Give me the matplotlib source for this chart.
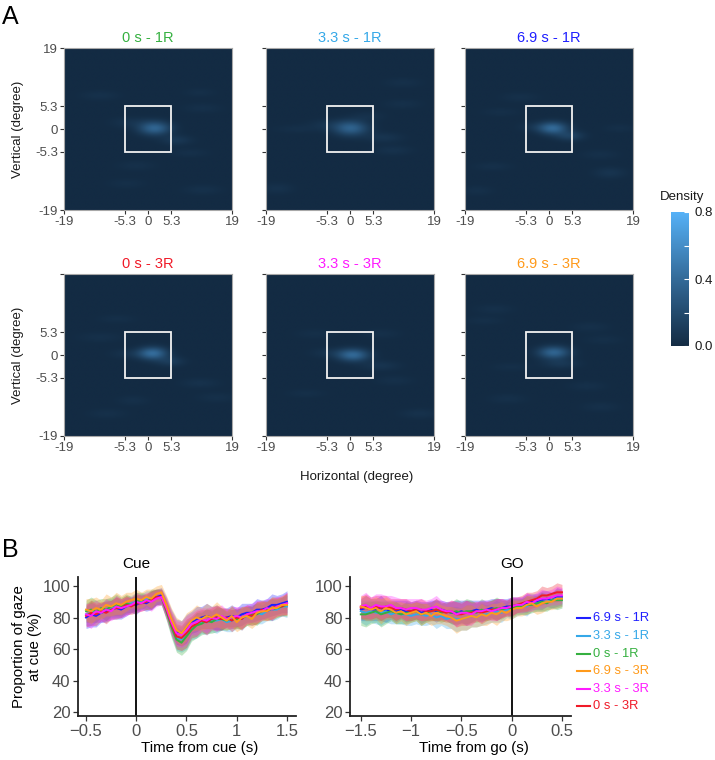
import numpy as np
import matplotlib
matplotlib.use("Agg")
import matplotlib.pyplot as plt
from matplotlib.colors import LinearSegmentedColormap
from matplotlib.patches import Rectangle
from matplotlib.lines import Line2D

plt.rcParams['font.family'] = ['Liberation Sans', 'DejaVu Sans']

W, H = 715, 760

# ---------------- data ----------------
conditions = ["6.9 s - 1R", "3.3 s - 1R", "0 s - 1R", "6.9 s - 3R", "3.3 s - 3R", "0 s - 3R"]
cond_colors = {"6.9 s - 1R": "#1F1FFF", "3.3 s - 1R": "#35A8E8", "0 s - 1R": "#35B040",
               "6.9 s - 3R": "#FF9A1A", "3.3 s - 3R": "#FF1AFF", "0 s - 3R": "#F01A28"}

heat_titles = ["0 s - 1R", "3.3 s - 1R", "6.9 s - 1R", "0 s - 3R", "3.3 s - 3R", "6.9 s - 3R"]
heat_ticks = [-19, -5.3, 0, 5.3, 19]
heat_ticklabels = ["-19", "-5.3", "0", "5.3", "19"]
cbar_ticks = [0.0, 0.2, 0.4, 0.6, 0.8]
cbar_ticklabels = ["0.0", "", "0.4", "", "0.8"]

# density blobs: (x, y, amplitude, spread_x, spread_y)
blobs_0s_1R = [(1.5, 0.2, 0.36, 2.4, 1.1), (6.4, -2.6, 0.08, 2.4, 0.8), (-10.9, 7.9, 0.04, 3.0, 0.8),
               (12.4, 4.9, 0.035, 3.0, 0.8), (11.7, 8.6, 0.03, 2.5, 0.7), (-2.6, -8.6, 0.035, 3.0, 0.8),
               (12.4, -14.3, 0.04, 3.0, 0.8), (-4.9, -12.8, 0.03, 3.0, 0.8), (9.4, -5.6, 0.035, 3.0, 0.7),
               (-4.0, 1.5, 0.05, 3.0, 0.9)]
blobs_33s_1R = [(0.2, 0.2, 0.34, 2.6, 1.2), (7.5, -2.0, 0.06, 3.0, 0.8), (9.7, -5.0, 0.045, 3.0, 0.8),
                (12.0, 10.9, 0.035, 3.0, 0.8), (12.0, 5.9, 0.035, 3.0, 0.8), (-16.5, -14.0, 0.045, 2.5, 0.9),
                (-12.0, 0.0, 0.03, 3.5, 0.7), (-5.0, 1.0, 0.05, 3.0, 0.9), (4.0, 3.0, 0.04, 2.5, 0.8)]
blobs_69s_1R = [(0.9, 0.2, 0.38, 2.2, 1.0), (4.7, -1.6, 0.14, 2.2, 0.8), (13.8, -10.3, 0.06, 2.5, 0.9),
                (11.5, -6.0, 0.035, 3.0, 0.8), (-6.6, 7.5, 0.035, 3.0, 0.8), (-11.0, 4.0, 0.03, 3.0, 0.7),
                (-12.7, -8.8, 0.035, 3.0, 0.7), (-16.3, -14.5, 0.035, 2.5, 0.8), (16.0, 0.2, 0.03, 2.5, 0.7),
                (-3.0, 0.5, 0.05, 2.5, 0.8)]
blobs_0s_3R = [(1.1, 0.4, 0.40, 2.2, 1.0), (5.0, -1.5, 0.10, 2.2, 0.8), (11.8, -6.6, 0.045, 3.0, 0.8),
               (15.6, -10.0, 0.035, 3.0, 0.8), (-10.9, 4.2, 0.035, 3.5, 0.8), (-7.0, 8.5, 0.03, 3.0, 0.7),
               (-9.3, -13.8, 0.035, 3.0, 0.8), (-3.4, -10.7, 0.035, 2.5, 0.8), (-4.0, 0.3, 0.05, 3.0, 0.8)]
blobs_33s_3R = [(0.7, 0.0, 0.38, 2.4, 1.0), (6.8, -2.5, 0.06, 3.0, 0.8), (15.8, -13.8, 0.045, 3.0, 0.8),
                (7.0, 5.0, 0.035, 3.0, 0.8), (-8.0, 5.0, 0.03, 3.0, 0.8), (-4.5, 0.5, 0.05, 3.0, 0.8),
                (-10.0, -9.0, 0.03, 3.0, 0.7), (10.0, -6.0, 0.035, 3.0, 0.8)]
blobs_69s_3R = [(1.1, 0.6, 0.36, 2.4, 1.0), (2.6, -2.0, 0.08, 2.8, 0.8), (-12.4, 10.8, 0.035, 3.0, 0.8),
                (-14.7, 8.1, 0.03, 3.0, 0.7), (9.4, 6.6, 0.035, 3.0, 0.8), (12.4, 3.6, 0.03, 3.0, 0.8),
                (-9.4, -10.3, 0.035, 3.0, 0.8), (11.7, -12.2, 0.035, 3.0, 0.8), (-8.6, -2.8, 0.03, 3.0, 0.7),
                (8.6, -7.3, 0.035, 3.0, 0.8)]
heat_blobs = [blobs_0s_1R, blobs_33s_1R, blobs_69s_1R, blobs_0s_3R, blobs_33s_3R, blobs_69s_3R]

# gaze proportion time courses (%), sampled every 0.05 s
t_cue = np.round(np.linspace(-0.5, 1.5, 41), 2)
t_go = np.round(np.linspace(-1.5, 0.5, 41), 2)

cue_69_1R = [80,82,81,83,84,85,86,85,87,88,88,90,89,91,93,94,87,78,71,70,73,77,79,80,81,80,80,79,80,81,80,82,83,83,85,85,86,88,88,89,90]
cue_33_1R = [82,83,84,83,85,86,87,86,88,89,90,90,92,91,93,93,85,75,67,66,69,73,75,77,77,78,78,79,77,78,79,79,81,81,83,82,84,85,85,87,87]
cue_0_1R = [84,85,84,86,85,87,88,87,89,88,90,91,90,92,93,93,84,74,66,64,68,72,75,76,78,77,79,79,78,80,79,80,81,82,82,84,85,85,86,87,88]
cue_69_3R = [85,84,86,85,88,87,89,88,90,91,92,91,93,92,95,96,88,79,72,70,74,78,80,79,81,80,82,80,78,81,77,80,81,79,83,84,84,86,86,88,88]
cue_33_3R = [82,81,84,83,85,84,87,86,87,88,90,89,91,90,92,93,86,77,70,69,72,76,77,79,78,80,79,81,79,80,81,80,82,83,84,84,86,85,87,88,89]
cue_0_3R = [81,83,82,84,83,85,86,86,88,87,89,89,90,91,93,93,85,76,68,67,70,74,76,78,77,79,80,79,80,78,80,79,82,81,83,85,84,86,87,87,89]
sem_cue = [7,8,7,6,7,6,7,6,6,5,6,5,5,6,5,5,6,7,8,8,9,7,8,7,8,7,8,7,6,7,6,7,6,6,7,6,6,7,6,6,7]

go_69_1R = [85,86,85,85,86,84,85,84,85,84,84,85,83,84,85,84,85,84,83,83,84,83,84,85,84,85,86,85,86,87,87,88,88,89,90,90,91,92,91,93,93]
go_33_1R = [84,83,84,83,83,84,82,83,82,82,81,82,82,81,82,80,81,79,80,79,79,80,81,80,82,82,83,84,83,85,85,86,87,87,89,89,90,90,91,92,92]
go_0_1R = [82,82,83,84,82,83,84,83,82,83,83,84,82,83,84,85,83,84,83,84,83,84,84,83,85,84,85,86,85,86,86,87,87,88,88,89,90,89,91,91,91]
go_69_3R = [87,86,85,86,84,86,85,83,84,82,83,84,82,83,81,83,82,81,80,78,79,80,81,80,82,81,83,82,84,83,85,86,86,88,89,87,89,90,90,92,92]
go_33_3R = [87,88,86,88,87,87,88,86,86,85,86,86,85,85,86,87,85,84,84,82,83,83,82,84,84,85,84,85,86,86,87,88,88,90,89,91,92,92,93,94,94]
go_0_3R = [86,87,86,87,86,87,86,85,86,85,84,85,85,84,84,85,84,83,84,82,82,83,83,84,83,84,85,85,86,86,87,88,89,90,91,92,94,94,95,96,96]
sem_go = [7,8,7,7,8,7,6,7,6,7,6,6,7,6,6,7,6,6,7,8,7,8,7,6,7,6,6,7,6,5,6,5,5,6,5,5,6,5,5,6,5]

cue_series = {"6.9 s - 1R": cue_69_1R, "3.3 s - 1R": cue_33_1R, "0 s - 1R": cue_0_1R,
              "6.9 s - 3R": cue_69_3R, "3.3 s - 3R": cue_33_3R, "0 s - 3R": cue_0_3R}
go_series = {"6.9 s - 1R": go_69_1R, "3.3 s - 1R": go_33_1R, "0 s - 1R": go_0_1R,
             "6.9 s - 3R": go_69_3R, "3.3 s - 3R": go_33_3R, "0 s - 3R": go_0_3R}
draw_order = ["6.9 s - 1R", "3.3 s - 1R", "0 s - 1R", "0 s - 3R", "3.3 s - 3R", "6.9 s - 3R"]
bt_ticks_cue = [-0.5, 0, 0.5, 1, 1.5]
bt_labels_cue = ["\u22120.5", "0", "0.5", "1", "1.5"]
bt_ticks_go = [-1.5, -1, -0.5, 0, 0.5]
bt_labels_go = ["\u22121.5", "\u22121", "\u22120.5", "0", "0.5"]
b_yticks = [20, 40, 60, 80, 100]

# ---------------- figure ----------------
fig = plt.figure(figsize=(W / 100, H / 100), dpi=100)


def px_axes(x, y, w, h):
    return fig.add_axes([x / W, 1 - (y + h) / H, w / W, h / H])


cmap = LinearSegmentedColormap.from_list("gg", ["#132B43", "#336A98", "#56B1F7"])

gx = np.linspace(-19, 19, 300)
GX, GY = np.meshgrid(gx, gx)

col_x = [64, 266, 465]
row_y = [48, 274]
tick_grey = "#4D4D4D"
for i, (title, blobs) in enumerate(zip(heat_titles, heat_blobs)):
    r, c = divmod(i, 3)
    ax = px_axes(col_x[c], row_y[r], 168, 162)
    dens = np.zeros_like(GX)
    for (bx, by, amp, sx, sy) in blobs:
        dens += amp * np.exp(-((GX - bx) ** 2 / (2 * sx ** 2) + (GY - by) ** 2 / (2 * sy ** 2)))
    im = ax.imshow(dens, cmap=cmap, vmin=0, vmax=0.8, origin="lower",
                   extent=[-19, 19, -19, 19], aspect="auto", interpolation="bilinear")
    ax.add_patch(Rectangle((-5.3, -5.3), 10.6, 10.6, fill=False, ec="#F2F2F2", lw=1.3))
    ax.set_xlim(-19, 19)
    ax.set_ylim(-19, 19)
    ax.set_xticks(heat_ticks)
    ax.set_yticks(heat_ticks)
    ax.set_xticklabels(heat_ticklabels)
    if c == 0:
        ylabs = list(heat_ticklabels)
        if r == 1:
            ylabs[-1] = ""
        ax.set_yticklabels(ylabs)
    else:
        ax.set_yticklabels([])
    ax.tick_params(length=3, width=0.8, color="#333333", labelsize=9.5, labelcolor=tick_grey, pad=1.5)
    for s in ax.spines.values():
        s.set_color("#A8A8A8")
        s.set_linewidth(0.8)
    ax.set_title(title, color=cond_colors[title], fontsize=10.5, pad=4)

fig.text(18 / W, 1 - 129 / H, "Vertical (degree)", rotation=90, ha="center", va="center", fontsize=9.5, color="#1A1A1A")
fig.text(18 / W, 1 - 355 / H, "Vertical (degree)", rotation=90, ha="center", va="center", fontsize=9.5, color="#1A1A1A")
fig.text(357 / W, 1 - 477 / H, "Horizontal (degree)", ha="center", va="center", fontsize=9.5, color="#1A1A1A")
fig.text(2 / W, 1 - 5 / H, "A", ha="left", va="top", fontsize=18)
fig.text(2 / W, 1 - 538 / H, "B", ha="left", va="top", fontsize=18)

# colorbar
cax = px_axes(671, 212, 18, 134)
cb = fig.colorbar(im, cax=cax)
cb.outline.set_visible(False)
cb.set_ticks(cbar_ticks)
cb.set_ticklabels(cbar_ticklabels)
cax.tick_params(direction="in", color="white", length=3.5, width=0.8, labelsize=9.5, labelcolor="#1A1A1A", pad=4)
fig.text(682 / W, 1 - 197 / H, "Density", ha="center", va="center", fontsize=9.5, color="#1A1A1A")


# panel B
def line_panel(ax, t, series, sem, xlim, xticks, xlabels, vline_lab):
    sem = np.asarray(sem, float)
    for name in draw_order:
        y = np.asarray(series[name], float)
        ax.fill_between(t, y - sem, y + sem, color=cond_colors[name], alpha=0.3, lw=0)
    for name in draw_order:
        ax.plot(t, series[name], color=cond_colors[name], lw=1.4)
    ax.axvline(0, color="black", lw=1.3)
    ax.set_xlim(*xlim)
    ax.set_ylim(17.5, 105.7)
    ax.set_xticks(xticks)
    ax.set_xticklabels(xlabels)
    ax.set_yticks(b_yticks)
    for s in ["top", "right"]:
        ax.spines[s].set_visible(False)
    for s in ["left", "bottom"]:
        ax.spines[s].set_linewidth(1.3)
        ax.spines[s].set_color("#222222")
    ax.tick_params(length=3.5, width=0.9, color="#333333", labelsize=12, labelcolor=tick_grey, pad=2)
    ax.text(0, 1.04, vline_lab, transform=ax.get_xaxis_transform(), ha="center", va="bottom", fontsize=11)


axL = px_axes(78, 577, 218, 139)
line_panel(axL, t_cue, cue_series, sem_cue, (-0.58, 1.59), bt_ticks_cue, bt_labels_cue, "Cue")
axR = px_axes(350, 577, 221, 139)
line_panel(axR, t_go, go_series, sem_go, (-1.607, 0.59), bt_ticks_go, bt_labels_go, "GO")

fig.text(200 / W, 1 - 748 / H, "Time from cue (s)", ha="center", va="center", fontsize=10.8)
fig.text(474 / W, 1 - 748 / H, "Time from go (s)", ha="center", va="center", fontsize=10.8)
fig.text(27 / W, 1 - 647 / H, "Proportion of gaze\nat cue (%)", rotation=90, ha="center", va="center",
         fontsize=10.8, linespacing=1.1)

# legend
leg_y = [618, 636, 654, 671, 689, 706]
for name, yy in zip(conditions, leg_y):
    fig.add_artist(Line2D([577 / W, 590 / W], [1 - yy / H, 1 - yy / H], color=cond_colors[name], lw=1.5))
    fig.text(593 / W, 1 - yy / H, name, color=cond_colors[name], ha="left", va="center", fontsize=9.3)

fig.savefig("out.png", dpi=100)
